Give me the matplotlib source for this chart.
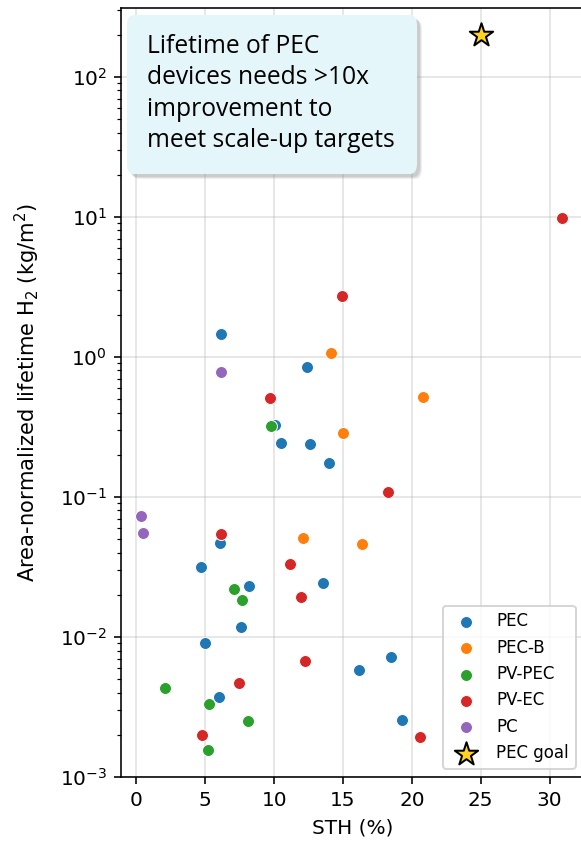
import matplotlib
matplotlib.use('Agg')
import matplotlib.pyplot as plt
from matplotlib.patches import FancyBboxPatch
import numpy as np

# data (STH %, lifetime kg/m2)
pec_sth = [6.17, 12.4, 10.05, 10.48, 12.59, 13.97, 6.08, 4.67, 8.18, 13.58, 7.57, 4.99, 18.47, 16.17, 5.98, 19.29]
pec_life = [1.45, 0.84, 0.327, 0.244, 0.237, 0.175, 0.0472, 0.0315, 0.0230, 0.0242, 0.0118, 0.00906, 0.0072, 0.00578, 0.00375, 0.00255]

pecb_sth = [14.16, 20.8, 14.98, 12.06, 16.36]
pecb_life = [1.06, 0.52, 0.288, 0.0512, 0.0459]

pvpec_sth = [9.8, 7.09, 7.67, 2.06, 5.25, 8.09, 5.18]
pvpec_life = [0.32, 0.0219, 0.0183, 0.00434, 0.0033, 0.00251, 0.00155]

pvec_sth = [30.9, 14.96, 9.68, 18.28, 6.17, 11.18, 11.98, 12.27, 7.48, 4.77, 20.57]
pvec_life = [9.84, 2.73, 0.51, 0.108, 0.0545, 0.0334, 0.0192, 0.0067, 0.00467, 0.00199, 0.00192]

pc_sth = [6.17, 0.36, 0.48]
pc_life = [0.78, 0.0731, 0.0556]

goal_sth = [25]
goal_life = [200]

series = [
    ('PEC', pec_sth, pec_life, '#1f77b4'),
    ('PEC-B', pecb_sth, pecb_life, '#ff7f0e'),
    ('PV-PEC', pvpec_sth, pvpec_life, '#2ca02c'),
    ('PV-EC', pvec_sth, pvec_life, '#d62728'),
    ('PC', pc_sth, pc_life, '#9467bd'),
]

W, H = 581, 842
fig = plt.figure(figsize=(W / 144, H / 144), dpi=144)
ax = fig.add_axes([121 / W, 65 / H, 463 / W, 769 / H])

for name, xs, ys, col in series:
    ax.scatter(xs, ys, s=36, color=col, edgecolor='white', linewidth=0.5, label=name, zorder=3)
ax.scatter(goal_sth, goal_life, s=150, marker='*', color='#FFD21F', edgecolor='black',
           linewidth=1.0, label='PEC goal', zorder=4)

ax.set_yscale('log')
ax.set_xlim(-1.12, 32.5)
ax.set_ylim(1e-3, 310)
ax.set_xticks([0, 5, 10, 15, 20, 25, 30])
ax.grid(True, which='major', color='#b0b0b0', alpha=0.3, linewidth=1.0)
ax.set_axisbelow(True)

ax.set_xlabel('STH (%)')
ax.set_ylabel('Area-normalized lifetime H$_2$ (kg/m$^2$)',
              family=['Liberation Sans Narrow', 'DejaVu Sans'], fontsize=10.5, labelpad=9)

ax.legend(loc='lower right', fontsize='small')

# callout box with a soft shadow
def fbox(x0, y0, x1, y1, **kw):
    return FancyBboxPatch((x0 / W, 1 - y1 / H), (x1 - x0) / W, (y1 - y0) / H,
                          boxstyle='round,pad=0,rounding_size=0.012',
                          transform=fig.transFigure, **kw)

for off, a in [(5, 0.12), (4, 0.15), (3, 0.18)]:
    fig.patches.append(fbox(127 + off, 15 + off, 417 + off, 174 + off,
                            facecolor='#7f7f7f', edgecolor='none', alpha=a, zorder=5))
fig.patches.append(fbox(127, 15, 417, 174, facecolor='#E5F6FB', edgecolor='none', zorder=6))
fig.text(147 / W, 1 - 34 / H,
         'Lifetime of PEC\ndevices needs >10x\nimprovement to\nmeet scale-up targets',
         ha='left', va='top', fontsize=12.3, family=['Open Sans', 'DejaVu Sans'],
         linespacing=1.34, zorder=7)

plt.savefig('out.png', dpi=144, facecolor='white')
